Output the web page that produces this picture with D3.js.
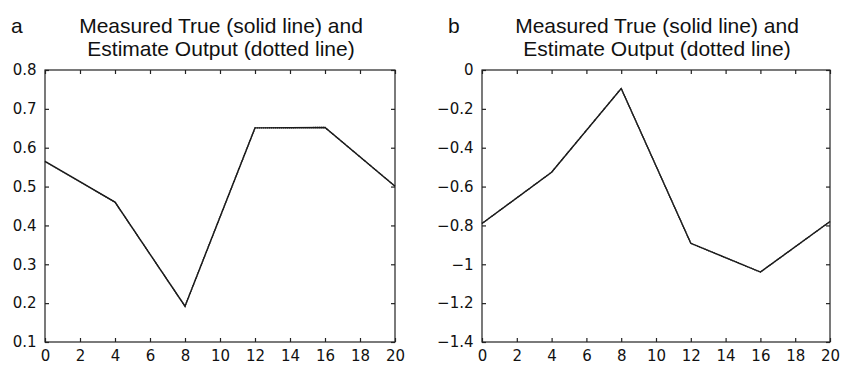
<!DOCTYPE html>
<html>
<head>
<meta charset="utf-8">
<script src="https://cdn.jsdelivr.net/npm/d3@7"></script>
<style>
  body { margin: 0; background: #fff; }
  text { font-family: "Liberation Sans", Arial, Helvetica, sans-serif; fill: #111; }
</style>
</head>
<body>
<div id="chart"></div>
<script>
// sample times (shared by both panels)
const time = [0, 4, 8, 12, 16, 20];
const xTicks = [0, 2, 4, 6, 8, 10, 12, 14, 16, 18, 20];

// panel a
const measuredA = [0.565, 0.46, 0.192, 0.651, 0.652, 0.501];
const estimateA = [0.565, 0.46, 0.192, 0.651, 0.652, 0.501];
const yTicksA = [0.1, 0.2, 0.3, 0.4, 0.5, 0.6, 0.7, 0.8];

// panel b
const measuredB = [-0.79, -0.526, -0.095, -0.892, -1.04, -0.78];
const estimateB = [-0.79, -0.526, -0.095, -0.892, -1.04, -0.78];
const yTicksB = [-1.4, -1.2, -1, -0.8, -0.6, -0.4, -0.2, 0];

const titleLines = ["Measured True (solid line) and", "Estimate Output (dotted line)"];

var svg = d3.select("#chart").append("svg")
    .attr("width", 842)
    .attr("height", 365);

function drawPanel(letter, left, right, measured, estimate, yTicks) {
    var top = 70, bottom = 342;
    var tick = 4;

    var xScale = d3.scaleLinear()
        .domain([0, 20])
        .range([left, right]);

    var yScale = d3.scaleLinear()
        .domain(d3.extent(yTicks))
        .range([bottom, top]);

    var fmt = d3.format("~g");

    // frame
    svg.append("rect")
        .attr("x", left)
        .attr("y", top)
        .attr("width", right - left)
        .attr("height", bottom - top)
        .attr("fill", "none")
        .attr("stroke", "#222")
        .attr("stroke-width", 1.2);

    // inward ticks on all four sides (matlab style)
    var g = svg.append("g");
    g.append("g")
        .attr("transform", "translate(0," + bottom + ")")
        .call(d3.axisBottom(xScale).tickValues(xTicks).tickSize(-tick).tickPadding(8).tickFormat(fmt));
    g.append("g")
        .attr("transform", "translate(0," + top + ")")
        .call(d3.axisTop(xScale).tickValues(xTicks).tickSize(-tick).tickFormat(""));
    g.append("g")
        .attr("transform", "translate(" + left + ",0)")
        .call(d3.axisLeft(yScale).tickValues(yTicks).tickSize(-tick).tickPadding(8.5).tickFormat(fmt));
    g.append("g")
        .attr("transform", "translate(" + right + ",0)")
        .call(d3.axisRight(yScale).tickValues(yTicks).tickSize(-tick).tickFormat(""));

    g.selectAll(".domain").remove();
    g.selectAll(".tick line").attr("stroke", "#222").attr("stroke-width", 1.2);
    g.selectAll(".tick text")
        .style("font-family", "'DejaVu Sans', sans-serif")
        .style("font-size", "15px")
        .attr("fill", "#111");

    var line = function (vals) {
        return d3.line()
            .x(function (d, i) { return xScale(time[i]); })
            .y(function (d) { return yScale(d); })(vals);
    };

    // measured (solid)
    svg.append("path")
        .attr("fill", "none")
        .attr("stroke", "#1a1a1a")
        .attr("stroke-width", 1.4)
        .attr("d", line(measured));

    // estimate (dotted), lies on top of the measured line
    svg.append("path")
        .attr("fill", "none")
        .attr("stroke", "#1a1a1a")
        .attr("stroke-width", 1.4)
        .attr("stroke-dasharray", "1,1")
        .attr("d", line(estimate));

    // title
    var cx = (left + right) / 2;
    svg.append("text")
        .attr("x", cx + 1)
        .attr("y", 33)
        .attr("text-anchor", "middle")
        .style("font-size", "21px")
        .text(titleLines[0]);
    svg.append("text")
        .attr("x", cx + 1)
        .attr("y", 56)
        .attr("text-anchor", "middle")
        .style("font-size", "21px")
        .text(titleLines[1]);

    // panel letter
    svg.append("text")
        .attr("x", left - 34)
        .attr("y", 33)
        .style("font-size", "21px")
        .text(letter);
}

drawPanel("a", 45, 395, measuredA, estimateA, yTicksA);
drawPanel("b", 482, 830, measuredB, estimateB, yTicksB);
</script>
</body>
</html>
